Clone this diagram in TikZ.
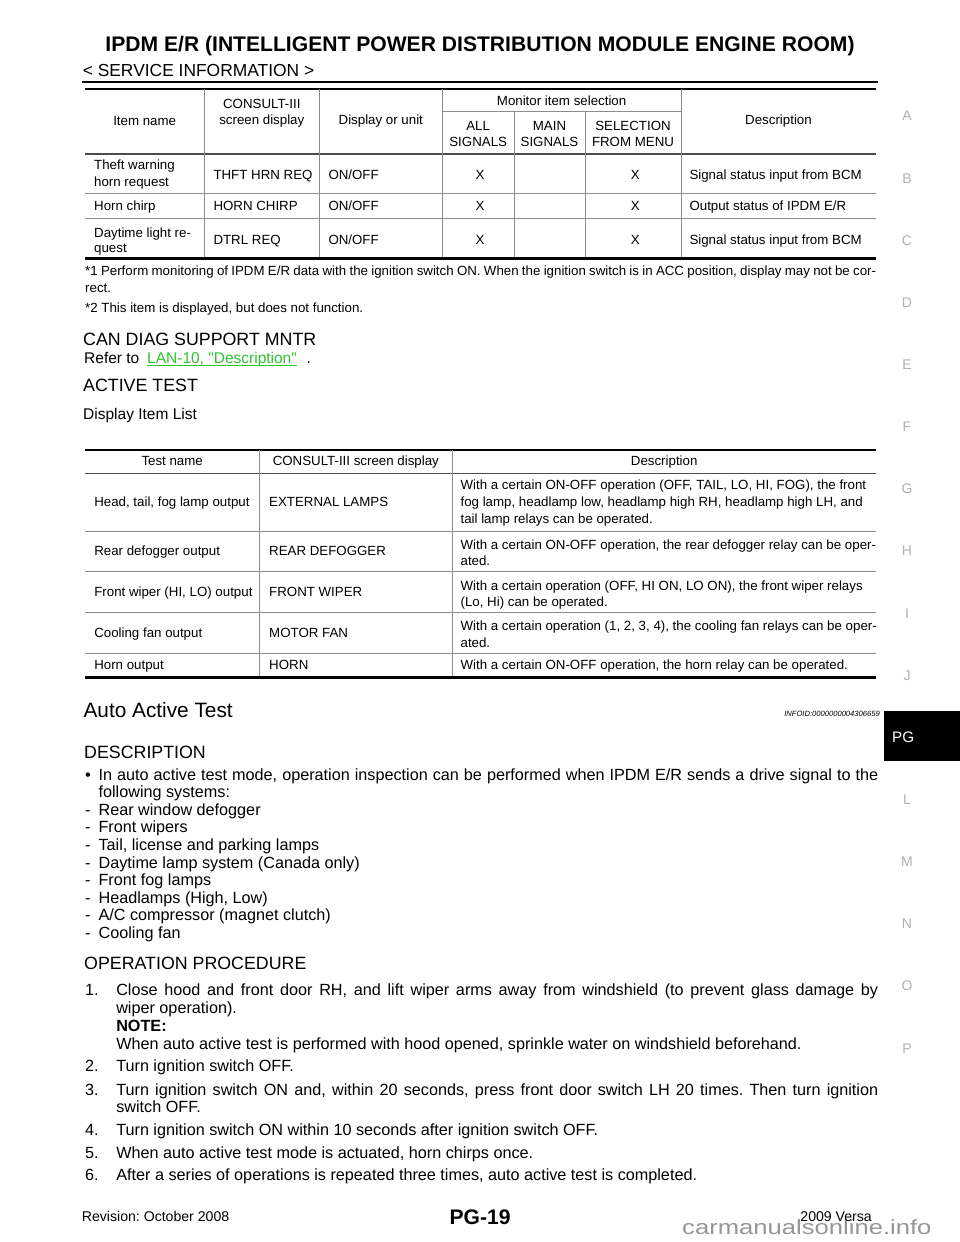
\documentclass[tikz,border=0pt]{standalone}
\usepackage{fontspec}
\setmainfont{Liberation Sans}[Ligatures=TeXOff]
\usepackage{graphicx}
\usetikzlibrary{positioning}
\definecolor{linkgreen}{RGB}{46,196,46}
\definecolor{sidegray}{RGB}{176,176,176}
\definecolor{markgray}{RGB}{150,150,150}
\newcommand\fsTitle{\fontsize{21.1}{24}\bfseries\selectfont}
\newcommand\fsTable{\fontsize{13.3}{16}\selectfont}
\newcommand\fsBody{\fontsize{16.2}{18}\selectfont}
\newcommand\fsRefer{\fontsize{15.5}{18}\selectfont}
\newcommand\fsHead{\fontsize{17.8}{20}\selectfont}
\newcommand\fsSide{\fontsize{14}{16}\selectfont}
\newcommand\fsFoot{\fontsize{14.1}{16}\selectfont}
\def\jline#1#2{\makebox[#1][s]{#2}}
\frenchspacing
\tikzset{
  txt/.style={anchor=base west, inner sep=0pt},
  ctxt/.style={anchor=base, inner sep=0pt},
  cell/.style={txt, font=\fsTable},
  ccell/.style={ctxt, font=\fsTable},
  body/.style={txt, font=\fsBody},
  heading/.style={txt, font=\fsHead},
  side/.style={ctxt, font=\fsSide, text=sidegray},
  heavyrule/.style={line width=2.5pt},
  midrule/.style={line width=1.6pt, color=black!70},
  gridline/.style={line width=1pt, color=black!45},
}
\begin{document}
\begin{tikzpicture}[x=1pt,y=-1pt]
			%%%%% START %%%%%
			\useasboundingbox[fill=white] (0,0) rectangle (960,1242);
			
			\node[ctxt, font=\fsTitle] (title) at (480,51.5) {IPDM E/R (INTELLIGENT POWER DISTRIBUTION MODULE ENGINE ROOM)};
			\node[txt, font=\fontsize{17.4}{20}\selectfont] (service) at (82.6,76.5) {< SERVICE INFORMATION >};
			\draw[line width=2.2pt] (82,81.7) -- (878,81.7);
			
			% monitor table
			\draw[heavyrule] (85,89) -- (876,89);
			\draw[gridline] (442.3,111.7) -- (681,111.7);
			\draw[midrule] (85,154) -- (876,154);
			\draw[gridline] (85,193.3) -- (876,193.3);
			\draw[gridline] (85,218.3) -- (876,218.3);
			\draw[gridline] (204.3,89) -- (204.3,258.3);
			\draw[gridline] (319.3,89) -- (319.3,258.3);
			\draw[gridline] (442.3,89) -- (442.3,258.3);
			\draw[gridline] (514,111.7) -- (514,258.3);
			\draw[gridline] (585,111.7) -- (585,258.3);
			\draw[gridline] (681,89) -- (681,258.3);
			\draw[heavyrule] (85,258.3) -- (876,258.3);
			
			\node[ccell] (hitem) at (144.7,125) {Item name};
			\node[ccell] (hcons) at (261.8,108.3) {CONSULT-III};
			\node[ccell] (hcons2) at (261.8,124.3) {screen display};
			\node[ccell] (hdisp) at (380.8,124.5) {Display or unit};
			\node[ccell] (hmon) at (561.6,105) {Monitor item selection};
			\node[ccell] (hall) at (478.2,130.5) {ALL};
			\node[ccell] (hall2) at (478.2,146) {SIGNALS};
			\node[ccell] (hmain) at (549.5,130.5) {MAIN};
			\node[ccell] (hmain2) at (549.5,146) {SIGNALS};
			\node[ccell] (hsel) at (633,130.5) {SELECTION};
			\node[ccell] (hsel2) at (633,146) {FROM MENU};
			\node[ccell] (hdesc) at (778.5,124.5) {Description};
			
			\node[cell] (theft) at (94,169.5) {Theft warning};
			\node[cell] (theft2) at (94,186) {horn request};
			\node[cell] (thft) at (213.3,179) {THFT HRN REQ};
			\node[cell] (thftu) at (328.3,179) {ON/OFF};
			\node[ccell] (thfta) at (480,179) {X};
			\node[ccell] (thfts) at (635.3,179) {X};
			\node[cell] (thftd) at (689.3,179) {Signal status input from BCM};
			
			\node[cell] (chirp) at (94,210) {Horn chirp};
			\node[cell] (chirpc) at (213.3,210) {HORN CHIRP};
			\node[cell] (chirpu) at (328.3,210) {ON/OFF};
			\node[ccell] (chirpa) at (480,210) {X};
			\node[ccell] (chirps) at (635.3,210) {X};
			\node[cell] (chirpd) at (689.3,210) {Output status of IPDM E/R};
			
			\node[cell] (dtrl) at (94,237.3) {Daytime light re-};
			\node[cell] (dtrl2) at (94,252.5) {quest};
			\node[cell] (dtrlc) at (213.3,244) {DTRL REQ};
			\node[cell] (dtrlu) at (328.3,244) {ON/OFF};
			\node[ccell] (dtrla) at (480,244) {X};
			\node[ccell] (dtrls) at (635.3,244) {X};
			\node[cell] (dtrld) at (689.3,244) {Signal status input from BCM};
			
			\node[cell] (note1) at (85,275.5) {\jline{791pt}{*1 Perform monitoring of IPDM E/R data with the ignition switch ON. When the ignition switch is in ACC position, display may not be cor-}};
			\node[cell] (note1b) at (85,292.5) {rect.};
			\node[cell] (note2) at (85,312.5) {*2 This item is displayed, but does not function.};
			
			\node[heading] (can) at (83,345.5) {CAN DIAG SUPPORT MNTR};
			\node[txt, font=\fsRefer] (refer) at (84,363.5) {Refer to};
			\node[txt, font=\fsRefer, text=linkgreen] (lnk) at (147,363.5) {LAN-10, "Description"};
			\draw[linkgreen, line width=0.9pt] ([yshift=-2.4pt]lnk.base west) -- ([yshift=-2.4pt]lnk.base east);
			\node[txt, font=\fsRefer] (dot) at (306.5,363.5) {.};
			\node[heading] (active) at (83,391) {ACTIVE TEST};
			\node[txt, font=\fsRefer] (dlist) at (83,419.5) {Display Item List};
			
			% active test table
			\draw[heavyrule] (85,450) -- (876,450);
			\draw[midrule] (85,473.3) -- (876,473.3);
			\draw[gridline] (85,531.3) -- (876,531.3);
			\draw[gridline] (85,571.7) -- (876,571.7);
			\draw[gridline] (85,612.7) -- (876,612.7);
			\draw[gridline] (85,653.3) -- (876,653.3);
			\draw[gridline] (259.3,450) -- (259.3,677.7);
			\draw[gridline] (452.3,450) -- (452.3,677.7);
			\draw[heavyrule] (85,677.7) -- (876,677.7);
			
			\node[ccell] (htest) at (172.2,465.3) {Test name};
			\node[ccell] (hscreen) at (355.8,465.3) {CONSULT-III screen display};
			\node[ccell] (hdescr) at (664.2,465.3) {Description};
			
			\node[cell] (lamp) at (94.1,506) {Head, tail, fog lamp output};
			\node[cell] (lampc) at (269,506) {EXTERNAL LAMPS};
			\node[cell] (lampd) at (460.4,489.5) {With a certain ON-OFF operation (OFF, TAIL, LO, HI, FOG), the front};
			\node[cell] (lampd2) at (460.4,506) {fog lamp, headlamp low, headlamp high RH, headlamp high LH, and};
			\node[cell] (lampd3) at (460.4,523) {tail lamp relays can be operated.};
			
			\node[cell] (defog) at (94.1,555) {Rear defogger output};
			\node[cell] (defogc) at (269,555) {REAR DEFOGGER};
			\node[cell] (defogd) at (460.4,549) {With a certain ON-OFF operation, the rear defogger relay can be oper-};
			\node[cell] (defogd2) at (460.4,565.5) {ated.};
			
			\node[cell] (wiper) at (94.1,596) {Front wiper (HI, LO) output};
			\node[cell] (wiperc) at (269,596) {FRONT WIPER};
			\node[cell] (wiperd) at (460.4,590) {With a certain operation (OFF, HI ON, LO ON), the front wiper relays};
			\node[cell] (wiperd2) at (460.4,606.5) {(Lo, Hi) can be operated.};
			
			\node[cell] (fan) at (94.1,637) {Cooling fan output};
			\node[cell] (fanc) at (269,637) {MOTOR FAN};
			\node[cell] (fand) at (460.4,630.5) {With a certain operation (1, 2, 3, 4), the cooling fan relays can be oper-};
			\node[cell] (fand2) at (460.4,647) {ated.};
			
			\node[cell] (horn) at (94.1,669) {Horn output};
			\node[cell] (hornc) at (269,669) {HORN};
			\node[cell] (hornd) at (460.4,669) {With a certain ON-OFF operation, the horn relay can be operated.};
			
			% auto active test
			\node[txt, font=\fontsize{20.8}{24}\selectfont] (auto) at (83.4,717) {Auto Active Test};
			\node[anchor=base east, inner sep=0pt, font=\fontsize{7.6}{9}\itshape\selectfont] (infoid) at (880,716.5) {INFOID:0000000004306659};
			\draw[fill=black] (884,710.7) rectangle (960,760);
			\node[txt, font=\fontsize{15.2}{18}\selectfont, text=white] (pg) at (892,742) {PG};
			
			\node[heading] (descr) at (84,758.3) {DESCRIPTION};
			\node[txt, font=\fsBody] (bul) at (85,780) {•};
			\node[body] (d1) at (98.4,780) {\jline{779.6pt}{In auto active test mode, operation inspection can be performed when IPDM E/R sends a drive signal to the}};
			\node[body] (d2) at (98.4,797.6) {following systems:};
			\node[body] (s1) at (85,815) {-};
			\node[body] (t1) at (98.4,815) {Rear window defogger};
			\node[body] (s2) at (85,832.6) {-};
			\node[body] (t2) at (98.4,832.6) {Front wipers};
			\node[body] (s3) at (85,850.3) {-};
			\node[body] (t3) at (98.4,850.3) {Tail, license and parking lamps};
			\node[body] (s4) at (85,868) {-};
			\node[body] (t4) at (98.4,868) {Daytime lamp system (Canada only)};
			\node[body] (s5) at (85,885.6) {-};
			\node[body] (t5) at (98.4,885.6) {Front fog lamps};
			\node[body] (s6) at (85,903.2) {-};
			\node[body] (t6) at (98.4,903.2) {Headlamps (High, Low)};
			\node[body] (s7) at (85,920.9) {-};
			\node[body] (t7) at (98.4,920.9) {A/C compressor (magnet clutch)};
			\node[body] (s8) at (85,938.5) {-};
			\node[body] (t8) at (98.4,938.5) {Cooling fan};
			
			\node[heading] (oper) at (84,969.5) {OPERATION PROCEDURE};
			\node[body] (n1) at (85,995) {1.};
			\node[body] (p1) at (116.1,995) {\jline{761.9pt}{Close hood and front door RH, and lift wiper arms away from windshield (to prevent glass damage by}};
			\node[body] (p1b) at (116.1,1013) {wiper operation).};
			\node[body, font=\fsBody\bfseries] (note) at (116.1,1031) {NOTE:};
			\node[body] (p1c) at (116.1,1049) {When auto active test is performed with hood opened, sprinkle water on windshield beforehand.};
			\node[body] (n2) at (85,1071.6) {2.};
			\node[body] (p2) at (116.1,1071.6) {Turn ignition switch OFF.};
			\node[body] (n3) at (85,1095) {3.};
			\node[body] (p3) at (116.1,1095) {\jline{761.9pt}{Turn ignition switch ON and, within 20 seconds, press front door switch LH 20 times. Then turn ignition}};
			\node[body] (p3b) at (116.1,1112.6) {switch OFF.};
			\node[body] (n4) at (85,1135.6) {4.};
			\node[body] (p4) at (116.1,1135.6) {Turn ignition switch ON within 10 seconds after ignition switch OFF.};
			\node[body] (n5) at (85,1158.3) {5.};
			\node[body] (p5) at (116.1,1158.3) {When auto active test mode is actuated, horn chirps once.};
			\node[body] (n6) at (85,1180) {6.};
			\node[body] (p6) at (116.1,1180) {After a series of operations is repeated three times, auto active test is completed.};
			
			% side index
			\node[side] (sa) at (907,120.8) {A};
			\node[side] (sb) at (907,183) {B};
			\node[side] (sc) at (907,245.1) {C};
			\node[side] (sd) at (907,307.3) {D};
			\node[side] (se) at (907,369.4) {E};
			\node[side] (sf) at (907,431.6) {F};
			\node[side] (sg) at (907,493.7) {G};
			\node[side] (sh) at (907,555.9) {H};
			\node[side] (si) at (907,618) {I};
			\node[side] (sj) at (907,680.2) {J};
			\node[side] (sl) at (907,804.5) {L};
			\node[side] (sm) at (907,866.6) {M};
			\node[side] (sn) at (907,928.8) {N};
			\node[side] (so) at (907,990.9) {O};
			\node[side] (sp) at (907,1053.1) {P};
			
			% footer
			\node[txt, font=\fsFoot] (rev) at (81.7,1221.5) {Revision: October 2008};
			\node[ctxt, font=\fsTitle] (page) at (480,1224) {PG-19};
			\node[txt, font=\fontsize{20.5}{24}\selectfont, text=markgray] (mark) at (682,1234.3) {\scalebox{1.25}[1]{carmanualsonline.info}};
			\node[anchor=base east, inner sep=0pt, font=\fsFoot] (versa) at (872,1221) {2009 Versa};
			
			%%%%% END %%%%%
\end{tikzpicture}
\end{document}
